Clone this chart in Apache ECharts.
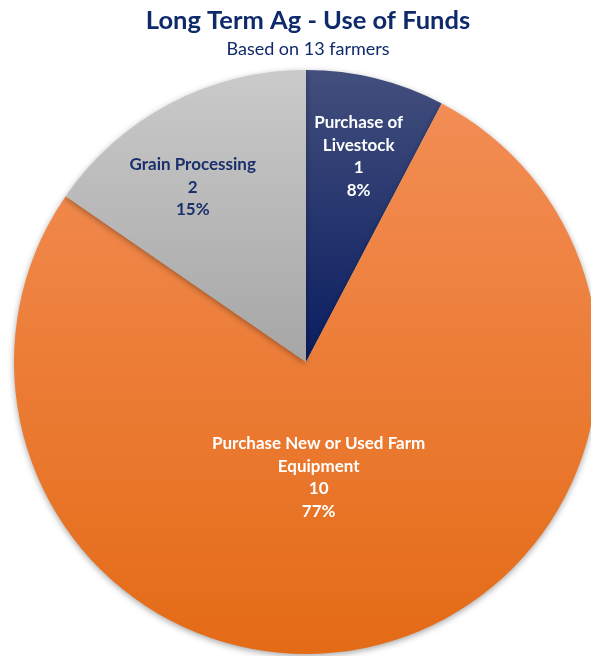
<!DOCTYPE html>
<html>
<head>
<meta charset="utf-8">
<script src="https://cdn.jsdelivr.net/npm/echarts@6/dist/echarts.min.js"></script>
<style>
html,body{margin:0;padding:0;background:#fff;}
#c{width:591px;height:656px;}
</style>
</head>
<body>
<div id="c"></div>
<script>
var categories = ['Purchase of\nLivestock', 'Purchase New or Used Farm\nEquipment', 'Grain Processing'];
var values = [1, 10, 2];
var titleText = 'Long Term Ag - Use of Funds';
var subtitleText = 'Based on 13 farmers';

var gradients = [
  ['#434f7d', '#0a1d60'],
  ['#f38d55', '#e46b16'],
  ['#cacaca', '#a6a6a6']
];
var labelColors = ['#ffffff', '#ffffff', '#1a2f6b'];
var labelOffsets = [[17, -61], [-23, -29], [-44, -43]];

var chart = echarts.init(document.getElementById('c'), null, {renderer: 'canvas'});
var data = categories.map(function (n, i) {
  return {
    name: n,
    value: values[i],
    itemStyle: {
      color: new echarts.graphic.LinearGradient(0, 0, 0, 1, [
        {offset: 0, color: gradients[i][0]},
        {offset: 1, color: gradients[i][1]}
      ])
    },
    label: {color: labelColors[i], offset: labelOffsets[i]}
  };
});

chart.setOption({
  animation: false,
  title: {
    text: titleText,
    subtext: subtitleText,
    left: 303,
    textAlign: 'center',
    top: 3,
    itemGap: 6,
    textStyle: {fontFamily: 'Lato', fontWeight: 'bold', fontSize: 25.5, color: '#0f2a6a'},
    subtextStyle: {fontFamily: 'Lato', fontSize: 18, color: '#0f2a6a'}
  },
  series: [{
    type: 'pie',
    center: [306, 362],
    radius: [0, 292],
    startAngle: 90,
    clockwise: true,
    percentPrecision: 0,
    avoidLabelOverlap: false,
    label: {
      show: true,
      position: 'inside',
      formatter: '{b}\n{c}\n{d}%',
      fontFamily: 'Lato',
      fontWeight: 'bold',
      fontSize: 17,
      lineHeight: 22.5,
      align: 'center'
    },
    labelLine: {show: false},
    itemStyle: {
      borderWidth: 0,
      shadowBlur: 6,
      shadowColor: 'rgba(0,0,0,0.35)',
      shadowOffsetY: 2
    },
    emphasis: {disabled: true},
    data: data
  }]
});
</script>
</body>
</html>
